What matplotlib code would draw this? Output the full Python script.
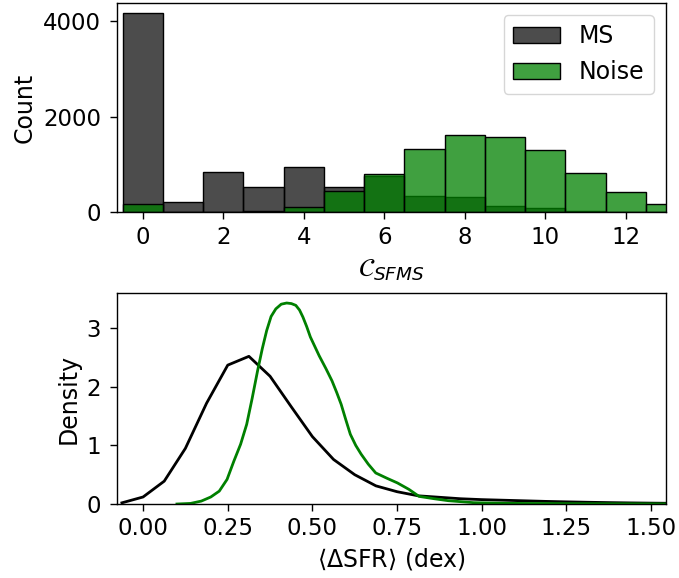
import numpy as np
import matplotlib
matplotlib.use("Agg")
import matplotlib.pyplot as plt

# histogram counts per C_SFMS value (bins centred on integers)
c_bins = [0, 1, 2, 3, 4, 5, 6, 7, 8, 9, 10, 11, 12, 13]
ms_counts = [4170, 222, 833, 520, 958, 527, 750, 347, 326, 139, 90, 20, 5, 0]
noise_counts = [167, 0, 5, 30, 111, 437, 805, 1326, 1610, 1568, 1298, 812, 416, 174]

# <dSFR> density curves
ms_x = [-0.0625, 0.0, 0.0625, 0.125, 0.1875, 0.25, 0.3125, 0.375, 0.4375, 0.5,
        0.5625, 0.625, 0.6875, 0.75, 0.8125, 0.875, 0.9375, 1.0, 1.0625, 1.125,
        1.1875, 1.25, 1.3125, 1.375, 1.4375, 1.5, 1.5625]
ms_dens = [0.02, 0.12, 0.39, 0.95, 1.72, 2.37, 2.52, 2.18, 1.66, 1.15,
           0.76, 0.50, 0.31, 0.21, 0.14, 0.115, 0.09, 0.075, 0.065, 0.055,
           0.045, 0.037, 0.03, 0.024, 0.019, 0.015, 0.012]
noise_x = [0.10, 0.14, 0.172, 0.20, 0.225, 0.248, 0.268, 0.288, 0.306, 0.322, 0.338,
           0.352, 0.365, 0.378, 0.392, 0.408, 0.424, 0.438, 0.451, 0.462, 0.472,
           0.483, 0.494, 0.507, 0.52, 0.54, 0.558, 0.572, 0.585, 0.598, 0.612,
           0.628, 0.644, 0.665, 0.687, 0.72, 0.751, 0.785, 0.815, 0.86, 0.901,
           0.976, 1.08, 1.3, 1.55]
noise_dens = [0.0, 0.01, 0.05, 0.12, 0.22, 0.42, 0.73, 1.02, 1.36, 1.80, 2.27,
              2.65, 2.96, 3.20, 3.33, 3.41, 3.43, 3.42, 3.39, 3.31, 3.19,
              3.03, 2.85, 2.69, 2.53, 2.31, 2.10, 1.90, 1.70, 1.45, 1.19,
              1.00, 0.85, 0.68, 0.53, 0.44, 0.36, 0.25, 0.13, 0.09, 0.057,
              0.023, 0.011, 0.005, 0.002]

plt.rcParams['axes.linewidth'] = 1.0
for ax_name in ['xtick', 'ytick']:
    plt.rcParams[ax_name + '.major.size'] = 4.8
    plt.rcParams[ax_name + '.major.width'] = 1.0
    plt.rcParams[ax_name + '.labelsize'] = 16.5
plt.rcParams['xtick.major.pad'] = 4.9
plt.rcParams['ytick.major.pad'] = 6.5

fig = plt.figure(figsize=(6.79, 5.78), dpi=100)
ax1 = fig.add_axes([0.1723, 0.6327, 0.8085, 0.3621])
ax2 = fig.add_axes([0.1723, 0.128, 0.8085, 0.365])

ax1.bar(c_bins, ms_counts, width=1, facecolor=(0, 0, 0, 0.7), edgecolor='black', lw=1.0, label='MS')
ax1.bar(c_bins, noise_counts, width=1, facecolor=(0, 0.5, 0, 0.75), edgecolor='black', lw=1.0, label='Noise')
ax1.set_xlim(-0.64, 13.0)
ax1.set_yticks([0, 2000, 4000])
ax1.set_xlabel(r'$\mathcal{C}_{SFMS}$', fontsize=19, labelpad=6)
ax1.set_ylabel('Count', fontsize=17, labelpad=5)
ax1.legend(loc='upper right', fontsize=17)

ax2.plot(ms_x, ms_dens, color='black', lw=2.0)
ax2.plot(noise_x, noise_dens, color='green', lw=2.0)
ax2.set_xlim(-0.077, 1.544)
ax2.set_ylim(0, 3.6)
ax2.set_xticks([0.0, 0.25, 0.5, 0.75, 1.0, 1.25, 1.5])
ax2.set_xlabel(r'$\langle\Delta$SFR$\rangle$ (dex)', fontsize=17)
ax2.set_ylabel('Density', fontsize=17)

fig.savefig('out.png', dpi=100)
